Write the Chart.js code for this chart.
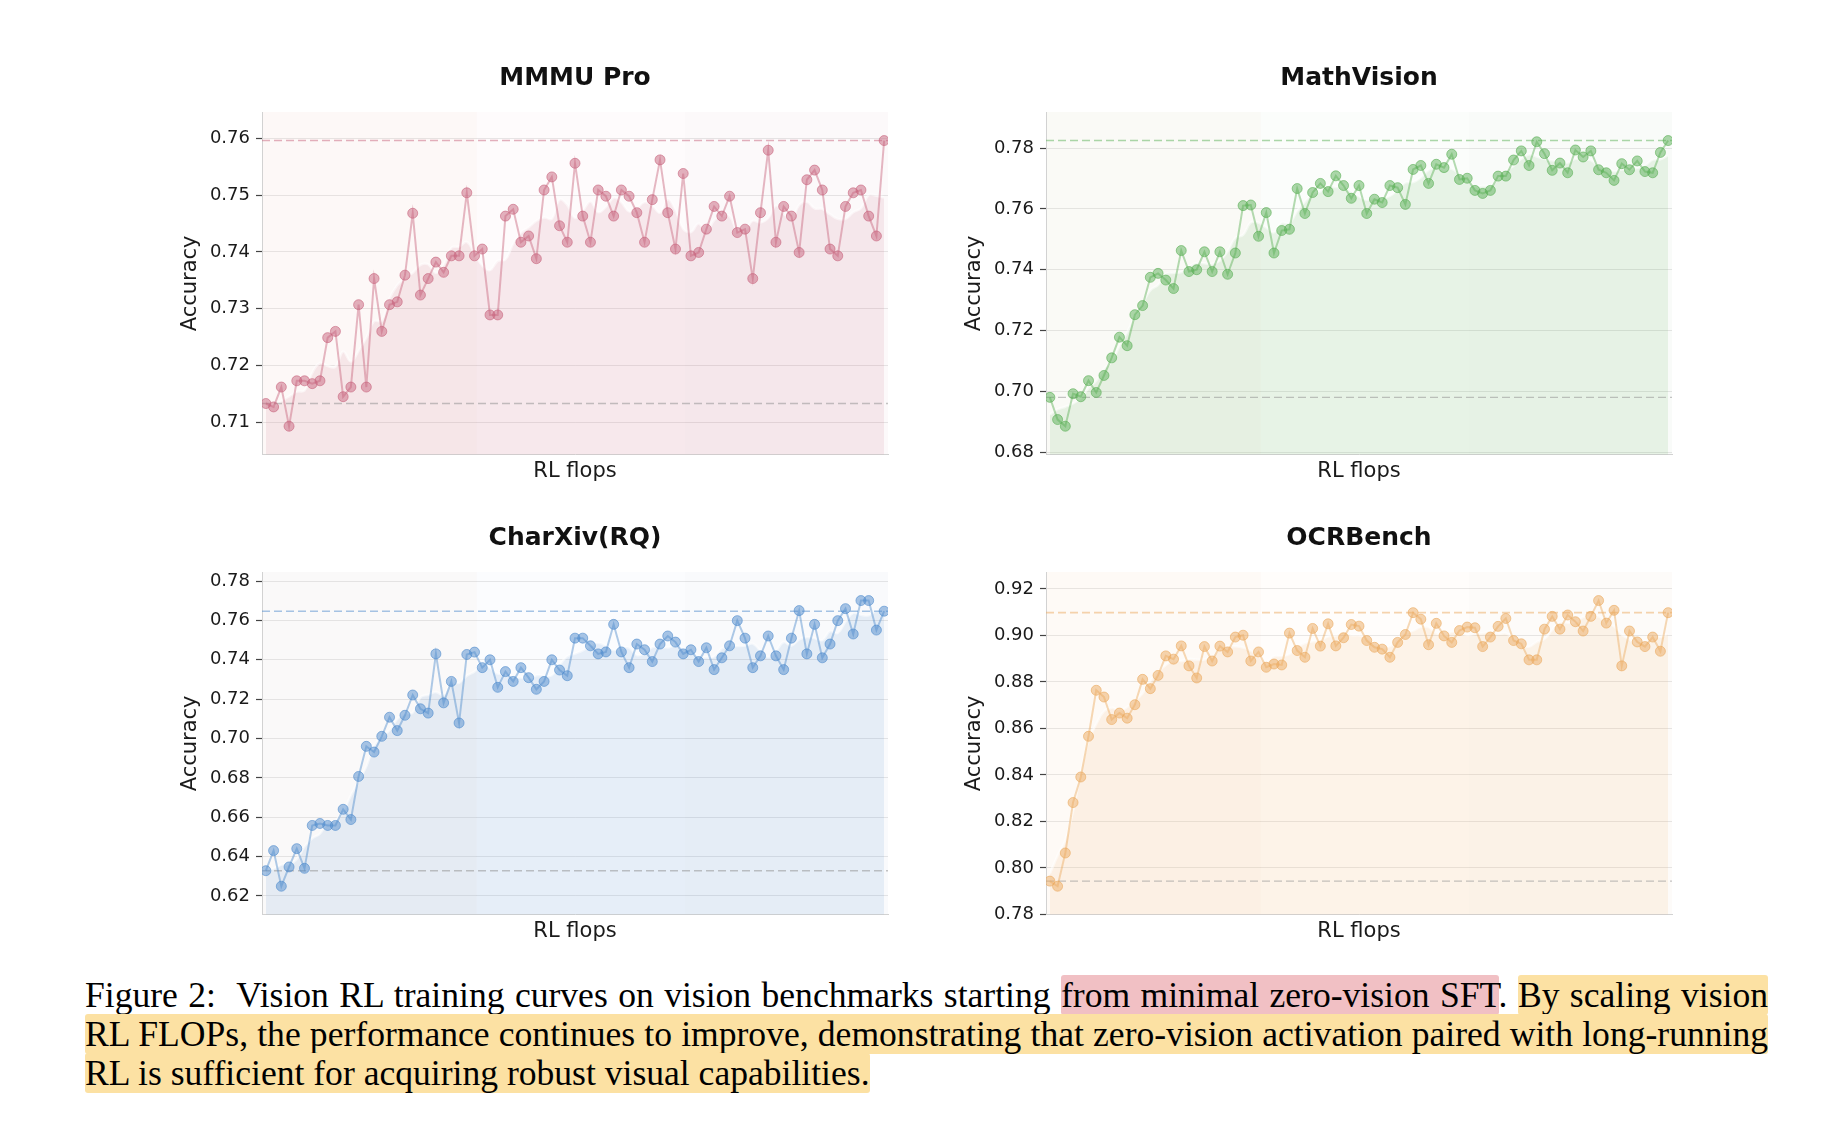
<!DOCTYPE html>
<html>
<head>
<meta charset="utf-8">
<script src="https://cdn.jsdelivr.net/npm/chart.js@4.4.1/dist/chart.umd.min.js"></script>
<style>
  html, body { margin: 0; padding: 0; background: #fff; }
  body { width: 1848px; height: 1144px; position: relative; overflow: hidden; }
  .panel { position: absolute; width: 754px; height: 447px; }
  .caption {
    position: absolute; left: 85px; top: 976px; width: 1683px;
    font-family: "Liberation Serif", "Times New Roman", serif;
    font-size: 35.6px; line-height: 39px; color: #000;
  }
  .caption .ln { text-align: justify; text-align-last: justify; }
  .caption .ln.last { text-align-last: left; }
  .hl-p { background: #f1c0c4; border-radius: 3px; }
  .hl-y { background: #fce1a3; border-radius: 3px; }
</style>
</head>
<body>
<div class="panel" style="left:142px; top:42px;"><canvas id="mmmu"></canvas></div>
<div class="panel" style="left:926px; top:42px;"><canvas id="mathv"></canvas></div>
<div class="panel" style="left:142px; top:502px;"><canvas id="charxiv"></canvas></div>
<div class="panel" style="left:926px; top:502px;"><canvas id="ocr"></canvas></div>

<div class="caption">
  <div class="ln">Figure 2:&nbsp; Vision RL training curves on vision benchmarks starting <span class="hl-p">from minimal zero-vision SFT</span>. <span class="hl-y">By scaling vision</span></div>
  <div class="ln"><span class="hl-y">RL FLOPs, the performance continues to improve, demonstrating that zero-vision activation paired with long-running</span></div>
  <div class="ln last"><span class="hl-y">RL is sufficient for acquiring robust visual capabilities.</span></div>
</div>

<script>
// accuracy per RL checkpoint
const mmmuPro = [
  0.7133, 0.7127, 0.7162, 0.7093, 0.7173, 0.7173, 0.7168, 0.7173, 0.7249, 0.7260,
  0.7145, 0.7162, 0.7307, 0.7162, 0.7353, 0.7260, 0.7307, 0.7312, 0.7359, 0.7468,
  0.7324, 0.7353, 0.7382, 0.7364, 0.7393, 0.7393, 0.7504, 0.7393, 0.7405, 0.7289,
  0.7289, 0.7463, 0.7475, 0.7417, 0.7428, 0.7388, 0.7509, 0.7532, 0.7446, 0.7417,
  0.7556, 0.7463, 0.7417, 0.7509, 0.7498, 0.7463, 0.7509, 0.7498, 0.7469, 0.7417,
  0.7492, 0.7562, 0.7469, 0.7405, 0.7538, 0.7393, 0.7399, 0.7440, 0.7480, 0.7463,
  0.7498, 0.7434, 0.7440, 0.7353, 0.7469, 0.7579, 0.7417, 0.7480, 0.7463, 0.7399,
  0.7527, 0.7544, 0.7509, 0.7405, 0.7393, 0.7480, 0.7504, 0.7509, 0.7463, 0.7428,
  0.7596
];
const mathVision = [
  0.6980, 0.6907, 0.6885, 0.6992, 0.6982, 0.7035, 0.6996, 0.7052, 0.7110, 0.7178,
  0.7150, 0.7252, 0.7282, 0.7375, 0.7388, 0.7366, 0.7338, 0.7463, 0.7394, 0.7400,
  0.7459, 0.7394, 0.7459, 0.7385, 0.7455, 0.7611, 0.7613, 0.7510, 0.7588, 0.7455,
  0.7529, 0.7533, 0.7667, 0.7585, 0.7654, 0.7684, 0.7657, 0.7709, 0.7677, 0.7635,
  0.7677, 0.7585, 0.7632, 0.7621, 0.7677, 0.7670, 0.7615, 0.7730, 0.7743, 0.7684,
  0.7747, 0.7736, 0.7780, 0.7697, 0.7701, 0.7661, 0.7651, 0.7661, 0.7708, 0.7708,
  0.7761, 0.7791, 0.7743, 0.7821, 0.7782, 0.7727, 0.7751, 0.7719, 0.7794, 0.7771,
  0.7791, 0.7729, 0.7719, 0.7694, 0.7749, 0.7729, 0.7758, 0.7723, 0.7719, 0.7786,
  0.7825
];
const charXiv = [
  0.6328, 0.6430, 0.6249, 0.6347, 0.6440, 0.6340, 0.6558, 0.6568, 0.6558, 0.6558,
  0.6640, 0.6588, 0.6807, 0.6960, 0.6931, 0.7011, 0.7108, 0.7040, 0.7118, 0.7221,
  0.7151, 0.7129, 0.7430, 0.7181, 0.7290, 0.7079, 0.7427, 0.7439, 0.7360, 0.7400,
  0.7260, 0.7340, 0.7290, 0.7360, 0.7309, 0.7250, 0.7290, 0.7400, 0.7348, 0.7319,
  0.7510, 0.7510, 0.7471, 0.7430, 0.7440, 0.7580, 0.7440, 0.7360, 0.7480, 0.7451,
  0.7391, 0.7480, 0.7521, 0.7490, 0.7430, 0.7451, 0.7391, 0.7461, 0.7350, 0.7410,
  0.7471, 0.7599, 0.7510, 0.7360, 0.7420, 0.7521, 0.7420, 0.7350, 0.7510, 0.7650,
  0.7430, 0.7580, 0.7410, 0.7480, 0.7599, 0.7660, 0.7531, 0.7701, 0.7701, 0.7551,
  0.7647
];
const ocrBench = [
  0.7943, 0.7921, 0.8064, 0.8281, 0.8391, 0.8566, 0.8764, 0.8735, 0.8638, 0.8666,
  0.8644, 0.8702, 0.8811, 0.8771, 0.8828, 0.8912, 0.8898, 0.8955, 0.8869, 0.8817,
  0.8952, 0.8890, 0.8954, 0.8929, 0.8993, 0.9001, 0.8890, 0.8929, 0.8863, 0.8877,
  0.8873, 0.9010, 0.8935, 0.8906, 0.9030, 0.8954, 0.9050, 0.8955, 0.8990, 0.9047,
  0.9040, 0.8978, 0.8949, 0.8941, 0.8906, 0.8970, 0.9004, 0.9098, 0.9070, 0.8960,
  0.9052, 0.8998, 0.8970, 0.9021, 0.9036, 0.9033, 0.8952, 0.8993, 0.9039, 0.9073,
  0.8978, 0.8964, 0.8895, 0.8895, 0.9027, 0.9082, 0.9027, 0.9088, 0.9059, 0.9019,
  0.9082, 0.9150, 0.9053, 0.9108, 0.8869, 0.9019, 0.8972, 0.8952, 0.8993, 0.8932,
  0.9098
];

// y tick labels of each panel
const mmmuTicks = [0.71, 0.72, 0.73, 0.74, 0.75, 0.76];
const mathTicks = [0.68, 0.70, 0.72, 0.74, 0.76, 0.78];
const charTicks = [0.62, 0.64, 0.66, 0.68, 0.70, 0.72, 0.74, 0.76, 0.78];
const ocrTicks = [0.78, 0.80, 0.82, 0.84, 0.86, 0.88, 0.90, 0.92];

// where the faint background bands (training phases) change
const phaseEdges = [27.3, 54.2];

Chart.defaults.font.family = 'DejaVu Sans';
Chart.defaults.color = '#1a1a1a';

// centered rolling mean, drawn as the shaded trend under the points
const rollingMean = (arr, win) => arr.map((_, i) => {
  const half = Math.floor(win / 2);
  const part = arr.slice(Math.max(0, i - half), Math.min(arr.length, i + half + 1));
  return part.reduce((a, b) => a + b, 0) / part.length;
});

const bandPlugin = {
  id: 'bands',
  beforeDraw(chart, args, opts) {
    const { ctx, chartArea: a, scales: { x } } = chart;
    ctx.save();
    ctx.fillStyle = `rgba(${opts.rgb},0.025)`;
    ctx.fillRect(a.left, a.top, a.width, a.height);
    const edges = [x.min, ...phaseEdges, x.max];
    const shades = ['rgba(235,215,190,0.07)', 'rgba(255,255,255,0)', 'rgba(225,225,225,0.06)'];
    for (let i = 0; i < edges.length - 1; i += 1) {
      const l = x.getPixelForValue(edges[i]);
      const r = x.getPixelForValue(edges[i + 1]);
      ctx.fillStyle = shades[i];
      ctx.fillRect(l, a.top, r - l, a.height);
    }
    ctx.restore();
  },
};

const makeChart = (id, title, values, ticks, rgb) => {
  const lo = Math.min(...values);
  const hi = Math.max(...values);
  const pad = (hi - lo) * 0.1;
  const xMin = -0.5;
  const xMax = values.length - 0.5;
  const pts = values.map((v, i) => ({ x: i, y: v }));
  const trend = rollingMean(values, 5).map((v, i) => ({ x: i, y: v }));
  const first = values[0];
  const last = values[values.length - 1];

  return new Chart(document.getElementById(id), {
    type: 'line',
    plugins: [bandPlugin],
    data: {
      datasets: [
        {
          data: pts,
          borderColor: `rgba(${rgb},0.45)`,
          borderWidth: 2,
          pointRadius: 5,
          pointBackgroundColor: `rgba(${rgb},0.5)`,
          pointBorderColor: `rgba(${rgb},0.6)`,
          pointBorderWidth: 1,
          tension: 0,
          fill: false,
        },
        {
          data: [{ x: xMin, y: last }, { x: xMax, y: last }],
          borderColor: `rgba(${rgb},0.5)`,
          borderWidth: 1.6,
          borderDash: [8, 4],
          pointRadius: 0,
          fill: false,
        },
        {
          data: [{ x: xMin, y: first }, { x: xMax, y: first }],
          borderColor: 'rgba(150,150,150,0.55)',
          borderWidth: 1.4,
          borderDash: [8, 4],
          pointRadius: 0,
          fill: false,
        },
        {
          data: trend,
          borderColor: 'rgba(255,255,255,0.55)',
          borderWidth: 2.5,
          pointRadius: 0,
          tension: 0.4,
          fill: 'start',
          backgroundColor: `rgba(${rgb},0.12)`,
        },
      ],
    },
    options: {
      responsive: true,
      maintainAspectRatio: false,
      animation: false,
      events: [],
      layout: { padding: { left: 0, right: 8, top: 0, bottom: 1 } },
      plugins: {
        legend: { display: false },
        tooltip: { enabled: false },
        bands: { rgb },
        title: {
          display: true,
          text: title,
          fullSize: false,
          color: '#111',
          font: { size: 25, weight: 'bold' },
          padding: { top: 21, bottom: 19 },
        },
      },
      scales: {
        x: {
          type: 'linear',
          min: xMin,
          max: xMax,
          ticks: { display: false },
          grid: { display: false, drawTicks: false },
          border: { display: true, color: '#d2d2d2', width: 1 },
          title: {
            display: true,
            text: 'RL flops',
            color: '#1a1a1a',
            font: { size: 21 },
            padding: { top: 4, bottom: 4 },
          },
        },
        y: {
          type: 'linear',
          min: lo - pad,
          max: hi + pad,
          afterFit(scale) { scale.width = 120; },
          afterBuildTicks(scale) { scale.ticks = ticks.map(v => ({ value: v })); },
          ticks: {
            font: { size: 18 },
            color: '#1a1a1a',
            padding: 6,
            callback: (v) => Number(v).toFixed(2),
          },
          grid: {
            color: 'rgba(0,0,0,0.09)',
            lineWidth: 1,
            tickLength: 6,
            tickColor: '#444',
            tickWidth: 1.2,
          },
          border: { display: true, color: '#d2d2d2', width: 1 },
          title: {
            display: true,
            text: 'Accuracy',
            color: '#1a1a1a',
            font: { size: 21 },
            padding: { top: 36, bottom: 0 },
          },
        },
      },
    },
  });
};

makeChart('mmmu', 'MMMU Pro', mmmuPro, mmmuTicks, '200,100,125');
makeChart('mathv', 'MathVision', mathVision, mathTicks, '90,175,85');
makeChart('charxiv', 'CharXiv(RQ)', charXiv, charTicks, '80,140,205');
makeChart('ocr', 'OCRBench', ocrBench, ocrTicks, '235,170,95');
</script>
</body>
</html>
